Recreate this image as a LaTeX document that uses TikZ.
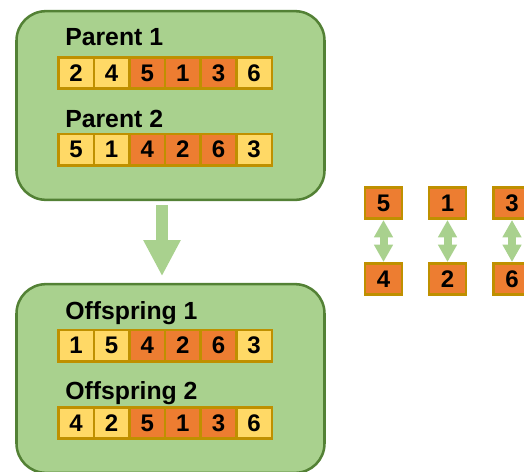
\documentclass[tikz,border=0pt]{standalone}
\usepackage{fontspec}
\setmainfont{Liberation Sans}
\usetikzlibrary{arrows.meta,positioning,calc}
\definecolor{Leaf}{HTML}{A9D18E}
\definecolor{LeafDark}{HTML}{538135}
\definecolor{Gold}{HTML}{BF9000}
\definecolor{GeneLight}{HTML}{FFD966}
\definecolor{GeneCut}{HTML}{ED7D31}

\begin{document}
\begin{tikzpicture}[x=0.75pt,y=-0.75pt,
  pool/.style={draw=LeafDark,fill=Leaf,line width=1.9pt,rounded corners=22pt,
    minimum width=231pt,minimum height=141.5pt,inner sep=0pt},
  gene/.style={draw=Gold,fill=GeneLight,line width=1.9pt,minimum width=26.7pt,
    minimum height=23.6pt,inner sep=0pt,font=\bfseries\fontsize{18}{20}\selectfont},
  genecut/.style={gene,fill=GeneCut},
  swapgene/.style={genecut,minimum width=27.5pt},
  tag/.style={anchor=base west,inner sep=0pt,font=\bfseries\fontsize{18.6}{20}\selectfont},
  swap/.style={{Triangle[width=13.5pt,length=13pt]}-{Triangle[width=13.5pt,length=13pt]},Leaf,line width=6pt},
  flow/.style={-{Triangle[width=26pt,length=27pt]},Leaf,line width=9pt}]
\useasboundingbox (0,0) rectangle (524,471);
% parents
\node[pool] (parents) at (170.5,105.5) {};
\node[tag] (p1tag) at (65,45) {Parent 1};
\node[gene] (a1) at (76.05,73) {2};
\node[gene] (a2) at (111.65,73) {4};
\node[genecut] (a3) at (147.25,73) {5};
\node[genecut] (a4) at (182.85,73) {1};
\node[genecut] (a5) at (218.45,73) {3};
\node[gene] (a6) at (254.05,73) {6};
\node[tag] (p2tag) at (65,127) {Parent 2};
\node[gene] (b1) at (76.05,149.5) {5};
\node[gene] (b2) at (111.65,149.5) {1};
\node[genecut] (b3) at (147.25,149.5) {4};
\node[genecut] (b4) at (182.85,149.5) {2};
\node[genecut] (b5) at (218.45,149.5) {6};
\node[gene] (b6) at (254.05,149.5) {3};
% offspring
\node[pool] (offspring) at (170.5,378.5) {};
\node[tag] (o1tag) at (65,319) {Offspring 1};
\node[gene] (c1) at (76.05,345.5) {1};
\node[gene] (c2) at (111.65,345.5) {5};
\node[genecut] (c3) at (147.25,345.5) {4};
\node[genecut] (c4) at (182.85,345.5) {2};
\node[genecut] (c5) at (218.45,345.5) {6};
\node[gene] (c6) at (254.05,345.5) {3};
\node[tag] (o2tag) at (65,399) {Offspring 2};
\node[gene] (d1) at (76.05,423) {4};
\node[gene] (d2) at (111.65,423) {2};
\node[genecut] (d3) at (147.25,423) {5};
\node[genecut] (d4) at (182.85,423) {1};
\node[genecut] (d5) at (218.45,423) {3};
\node[gene] (d6) at (254.05,423) {6};
\draw[flow,shorten <=3pt,shorten >=5pt] (parents.south -| 162,0) -- (offspring.north -| 162,0);
% mapping
\node[swapgene] (m1) at (383.5,203) {5};
\node[swapgene] (m2) at (447.5,203) {1};
\node[swapgene] (m3) at (512,203) {3};
\node[swapgene] (n1) at (383.5,279) {4};
\node[swapgene] (n2) at (447.5,279) {2};
\node[swapgene] (n3) at (512,279) {6};
\draw[swap] (m1) -- (n1);
\draw[swap] (m2) -- (n2);
\draw[swap] (m3) -- (n3);
\end{tikzpicture}
\end{document}
